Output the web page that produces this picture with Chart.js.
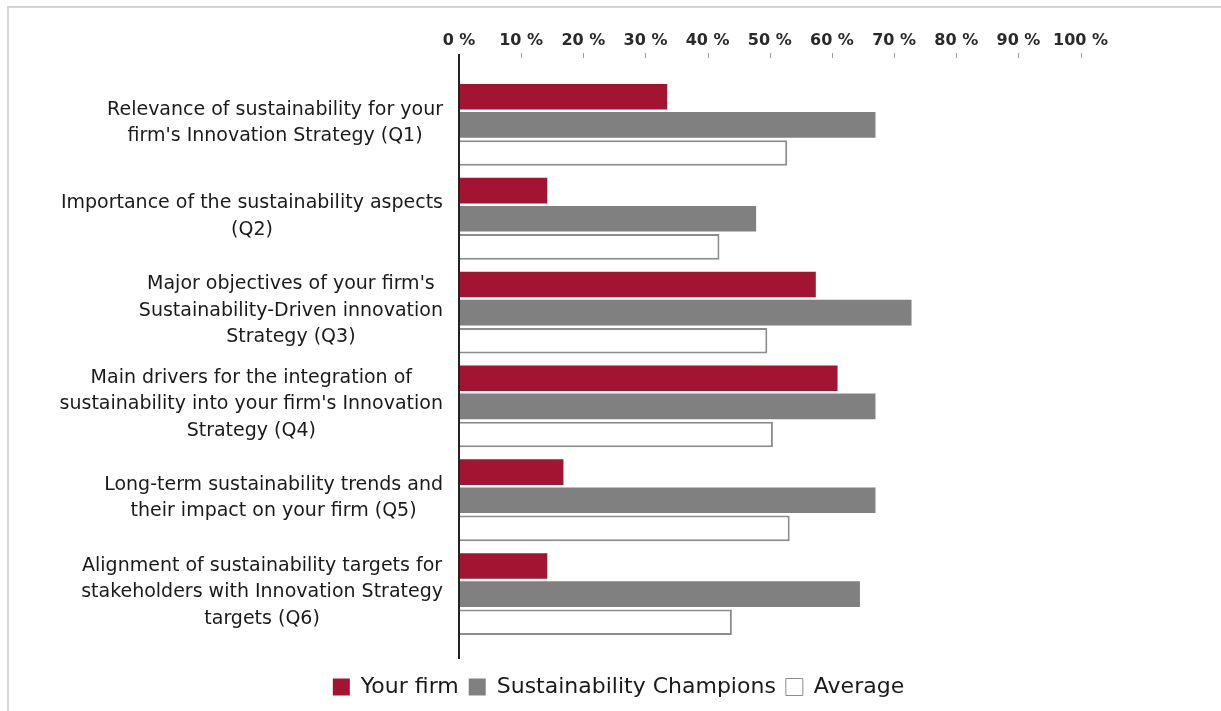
<!DOCTYPE html>
<html>
<head>
<meta charset="utf-8">
<script src="https://cdn.jsdelivr.net/npm/chart.js@4/dist/chart.umd.min.js"></script>
<style>
  html, body { margin: 0; padding: 0; background: #fff; }
  body { width: 1221px; height: 711px; position: relative; overflow: hidden; }
  #frame {
    position: absolute; left: 7px; top: 6px; right: 0; bottom: 0;
    border-top: 2px solid #d4d4d4; border-left: 2px solid #d4d4d4;
  }
  #wrap { position: absolute; left: 0; top: 0; width: 1221px; height: 711px; }
</style>
</head>
<body>
<div id="frame"></div>
<div id="wrap"><canvas id="chart"></canvas></div>
<script>
// --- data ---
const categories = [
  ["Relevance of sustainability for your", "firm's Innovation Strategy (Q1)"],
  ["Importance of the sustainability aspects", "(Q2)"],
  ["Major objectives of your firm's", "Sustainability-Driven innovation", "Strategy (Q3)"],
  ["Main drivers for the integration of", "sustainability into your firm's Innovation", "Strategy (Q4)"],
  ["Long-term sustainability trends and", "their impact on your firm (Q5)"],
  ["Alignment of sustainability targets for", "stakeholders with Innovation Strategy", "targets (Q6)"]
];
const seriesNames = ["Your firm", "Sustainability Champions", "Average"];
const yourFirm  = [33.5, 14.2, 57.4, 60.9, 16.8, 14.2];
const champions = [67.0, 47.8, 72.8, 67.0, 67.0, 64.5];
const average   = [52.8, 41.9, 49.6, 50.5, 53.2, 43.9];
const xTickValues = [0, 10, 20, 30, 40, 50, 60, 70, 80, 90, 100];

const RED = "#a21432";
const GREY = "#808080";

// draws the centred multi-line category labels, the vertical axis and the small top ticks
const decorPlugin = {
  id: "decor",
  afterDatasetsDraw(chart) {
    const { ctx, chartArea, scales } = chart;
    const x = scales.x, y = scales.y;
    ctx.save();

    // category labels: lines centred in their block, block right-aligned to the axis
    ctx.font = "19px 'DejaVu Sans'";
    ctx.fillStyle = "#1a1a1a";
    ctx.textAlign = "center";
    ctx.textBaseline = "middle";
    const lineH = 26.5;
    categories.forEach((lines, i) => {
      const cy = y.getPixelForValue(i) - 2;
      const maxW = Math.max(...lines.map(l => ctx.measureText(l).width));
      const cx = chartArea.left - 16 - maxW / 2;
      lines.forEach((l, j) => {
        ctx.fillText(l, cx, cy + (j - (lines.length - 1) / 2) * lineH);
      });
    });

    // vertical axis line, longer than the category band
    ctx.strokeStyle = "#222";
    ctx.lineWidth = 2;
    ctx.beginPath();
    ctx.moveTo(chartArea.left, chartArea.top - 24);
    ctx.lineTo(chartArea.left, chartArea.bottom + 18);
    ctx.stroke();

    // short tick marks under the percent labels
    ctx.strokeStyle = "#9a9a9a";
    ctx.lineWidth = 1;
    xTickValues.slice(1).forEach(v => {
      const px = Math.round(x.getPixelForValue(v)) + 0.5;
      ctx.beginPath();
      ctx.moveTo(px, chartArea.top - 25);
      ctx.lineTo(px, chartArea.top - 20);
      ctx.stroke();
    });
    ctx.restore();
  }
};

new Chart(document.getElementById("chart"), {
  type: "bar",
  data: {
    labels: categories,
    datasets: [
      { label: seriesNames[0], data: yourFirm, backgroundColor: RED, borderWidth: 0 },
      { label: seriesNames[1], data: champions, backgroundColor: GREY, borderWidth: 0 },
      { label: seriesNames[2], data: average, backgroundColor: "#ffffff", borderColor: "#8c8c8c", borderWidth: 2 }
    ]
  },
  options: {
    indexAxis: "y",
    responsive: true,
    maintainAspectRatio: false,
    animation: false,
    categoryPercentage: 0.9,
    barPercentage: 0.91,
    layout: { padding: { left: 16, right: 0, top: 0, bottom: 3 } },
    scales: {
      x: {
        position: "top",
        min: 0, max: 100,
        afterBuildTicks: s => { s.ticks = xTickValues.map(v => ({ value: v })); },
        afterFit: s => { s.height = 78; },
        grid: { display: false },
        border: { display: false },
        ticks: {
          autoSkip: false, maxRotation: 0, padding: 20,
          color: "#2a2a2a",
          font: { family: "'DejaVu Sans'", size: 16, weight: "bold" },
          callback: v => v + " %"
        }
      },
      x2: {
        type: "linear", position: "bottom",
        grid: { display: false }, border: { display: false },
        ticks: { display: false },
        afterFit: s => { s.height = 25; }
      },
      y: {
        position: "left",
        grid: { display: false }, border: { display: false },
        ticks: { display: false },
        afterFit: s => { s.width = 443; }
      },
      y2: {
        type: "linear", position: "right",
        grid: { display: false }, border: { display: false },
        ticks: { display: false },
        afterFit: s => { s.width = 140.4; }
      }
    },
    plugins: {
      tooltip: { enabled: false },
      legend: {
        position: "bottom",
        labels: {
          boxWidth: 17, boxHeight: 17, padding: 10,
          color: "#1a1a1a",
          font: { family: "'DejaVu Sans'", size: 22 },
          generateLabels: chart => Chart.defaults.plugins.legend.labels.generateLabels(chart)
            .map(item => ({ ...item, lineWidth: item.lineWidth ? 1 : 0 }))
        }
      }
    }
  },
  plugins: [decorPlugin]
});
</script>
</body>
</html>
